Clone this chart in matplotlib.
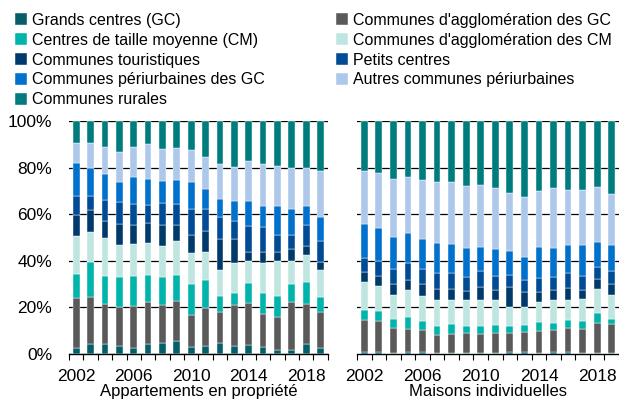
import matplotlib.pyplot as plt
import numpy as np

plt.rcParams['font.family'] = ['Liberation Sans', 'DejaVu Sans']

years = list(range(2002, 2020))
categories = ["Grands centres (GC)", "Communes d'agglomération des GC",
              "Centres de taille moyenne (CM)", "Communes d'agglomération des CM",
              "Communes touristiques", "Petits centres",
              "Communes périurbaines des GC", "Autres communes périurbaines",
              "Communes rurales"]
colors = ["#065e68", "#5a5a5a", "#00b4ab", "#bfe5e0", "#003a6b",
          "#004b96", "#0071cd", "#adc8ea", "#007c7e"]

# parts in % - appartements en propriété
app_gc = [2.4, 4.1, 4.1, 3.4, 2.4, 4.3, 4.7, 5.4, 3.0, 3.3, 4.6, 3.4, 4.0, 3.0, 1.9, 1.6, 4.1, 2.4]
app_agglo_gc = [21.6, 20.5, 17.3, 16.9, 18.2, 18.0, 16.2, 17.2, 13.6, 16.3, 13.4, 17.7, 17.9, 14.1, 13.8, 20.7, 17.3, 15.6]
app_cm = [10.4, 15.1, 12.2, 12.6, 12.7, 11.8, 12.0, 11.5, 13.3, 12.3, 7.0, 5.3, 8.7, 9.3, 9.4, 7.8, 9.5, 6.6]
app_agglo_cm = [16.2, 12.6, 16.1, 14.0, 14.1, 13.6, 13.4, 14.6, 13.4, 11.8, 11.1, 12.6, 9.4, 12.6, 14.9, 9.9, 11.5, 11.3]
app_tour = [9.1, 9.7, 7.6, 8.8, 8.0, 8.4, 9.0, 6.6, 7.6, 9.3, 13.2, 10.3, 4.0, 4.6, 4.0, 4.9, 3.9, 3.8]
app_petits = [8.3, 5.7, 9.0, 9.4, 9.2, 8.0, 9.7, 9.3, 11.2, 9.4, 9.4, 7.7, 11.1, 11.1, 7.1, 6.2, 9.0, 9.0]
app_peri_gc = [14.0, 12.0, 11.0, 8.9, 11.5, 11.0, 9.4, 10.3, 11.9, 8.5, 7.9, 8.7, 10.6, 8.9, 12.6, 11.2, 8.3, 9.9]
app_autres = [8.6, 10.9, 11.7, 12.7, 12.6, 14.9, 13.5, 13.5, 13.6, 13.5, 15.0, 14.6, 17.2, 18.0, 17.0, 17.7, 16.4, 20.1]
app_rurales = [9.4, 9.4, 11.0, 13.3, 11.3, 10.0, 12.1, 11.6, 12.4, 15.6, 18.4, 19.7, 17.1, 18.4, 19.3, 20.0, 20.0, 21.3]

# parts in % - maisons individuelles
mai_gc = [0.7, 0.7, 0.4, 0.7, 0.7, 0.4, 0.6, 0.6, 0.4, 0.6, 0.9, 1.0, 0.6, 0.7, 0.7, 0.6, 0.4, 0.4]
mai_agglo_gc = [13.7, 13.3, 10.6, 9.9, 9.6, 7.7, 7.8, 8.5, 8.0, 8.3, 8.1, 8.3, 9.3, 9.6, 10.4, 10.1, 12.9, 12.5]
mai_cm = [4.3, 4.6, 4.0, 5.3, 4.0, 4.0, 4.6, 3.0, 3.5, 3.5, 2.9, 3.1, 3.7, 3.1, 3.3, 3.3, 4.1, 2.1]
mai_agglo_cm = [12.2, 10.7, 10.4, 11.7, 10.8, 10.9, 10.0, 10.9, 11.4, 10.6, 8.4, 7.7, 8.7, 9.7, 8.9, 9.6, 10.5, 10.3]
mai_tour = [4.2, 4.1, 4.5, 4.1, 4.8, 5.1, 4.9, 4.0, 5.4, 4.4, 8.3, 6.5, 4.3, 4.3, 5.0, 3.8, 4.5, 4.7]
mai_petits = [6.3, 6.7, 6.4, 7.2, 6.4, 6.5, 6.7, 6.0, 6.9, 6.0, 5.3, 5.1, 6.1, 5.6, 6.3, 6.0, 4.9, 5.6]
mai_peri_gc = [14.3, 13.9, 13.8, 13.1, 13.1, 13.1, 12.7, 12.3, 10.5, 11.5, 10.4, 10.0, 13.3, 12.3, 12.0, 13.2, 10.6, 11.1]
mai_autres = [22.7, 23.9, 24.9, 24.0, 25.2, 26.3, 26.6, 26.8, 26.3, 26.2, 24.8, 25.7, 24.1, 25.8, 23.8, 23.8, 24.0, 22.2]
mai_rurales = [21.6, 22.1, 25.0, 24.0, 25.4, 26.0, 26.1, 27.9, 27.6, 28.9, 30.9, 32.6, 29.9, 28.9, 29.6, 29.6, 28.1, 31.1]

app = [app_gc, app_agglo_gc, app_cm, app_agglo_cm, app_tour, app_petits,
       app_peri_gc, app_autres, app_rurales]
mai = [mai_gc, mai_agglo_gc, mai_cm, mai_agglo_cm, mai_tour, mai_petits,
       mai_peri_gc, mai_autres, mai_rurales]

fig = plt.figure(figsize=(6.19, 4.03), dpi=100)
ax1 = fig.add_axes([0.1115, 0.1216, 0.418, 0.578])
ax2 = fig.add_axes([0.5767, 0.1216, 0.4233, 0.578])

x = np.arange(len(years))
handles = []
for ax, data, label in [(ax1, app, "Appartements en propriété"),
                        (ax2, mai, "Maisons individuelles")]:
    # normalise to 100 %
    arr = np.array(data, dtype=float)
    arr = arr / arr.sum(axis=0) * 100
    bottom = np.zeros(len(years))
    hs = []
    for vals, c, name in zip(arr, colors, categories):
        b = ax.bar(x, vals, bottom=bottom, width=0.47, color=c,
                   edgecolor="white", linewidth=0.3, label=name, zorder=3)
        bottom += vals
        hs.append(b)
    handles = hs
    ax.set_ylim(0, 100)
    ax.set_xlim(-0.5, 17.5)
    ax.set_yticks([20, 40, 60, 80, 100])
    ax.yaxis.grid(True, color="black", linewidth=0.9, zorder=0)
    ax.set_axisbelow(True)
    for s in ["top", "right", "left"]:
        ax.spines[s].set_visible(False)
    ax.spines["bottom"].set_linewidth(1.0)
    ax.set_xticks(x[::4])
    ax.set_xticklabels([str(y) for y in years[::4]], fontsize=12.5)
    ax.set_xticks(np.arange(-0.5, 18, 1), minor=True)
    ax.tick_params(axis="x", which="major", length=0, pad=11)
    ax.tick_params(axis="x", which="minor", length=4, width=0.8, color="black")
    ax.tick_params(axis="y", length=0)
    ax.set_xlabel(label, fontsize=12, labelpad=0)

ax1.set_yticks([0, 20, 40, 60, 80, 100])
ax1.set_yticklabels(["0%", "20%", "40%", "60%", "80%", "100%"], fontsize=12.5)
ax1.tick_params(axis="y", pad=12)
ax2.set_yticklabels([])

col1 = [0, 2, 4, 6, 8]
col2 = [1, 3, 5, 7]
for idx, xpos in [(col1, 0.009), (col2, 0.527)]:
    leg = fig.legend([handles[i] for i in idx], [categories[i] for i in idx],
                     loc="upper left", bbox_to_anchor=(xpos, 0.9925), ncol=1,
                     frameon=False, fontsize=11.5, handlelength=0.75,
                     handleheight=0.75, handletextpad=0.3, labelspacing=0.31,
                     borderaxespad=0.3, borderpad=0.3)

fig.savefig("out.png", dpi=100)
